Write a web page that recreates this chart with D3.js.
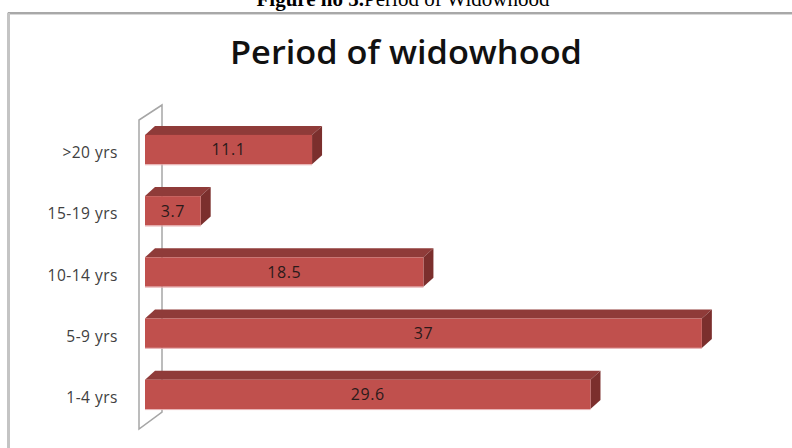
<!DOCTYPE html>
<html>
<head>
<meta charset="utf-8">
<script src="https://cdn.jsdelivr.net/npm/d3@7"></script>
<style>
  html, body { margin: 0; padding: 0; background: #fff; overflow: hidden; }
  svg { display: block; }
</style>
</head>
<body>
<svg id="chart" width="792" height="448"></svg>
<script>
// Period of widowhood (%), listed top to bottom as drawn
const categories = [">20 yrs", "15-19 yrs", "10-14 yrs", "5-9 yrs", "1-4 yrs"];
const values = [11.1, 3.7, 18.5, 37, 29.6];

const W = 792, H = 448;
const svg = d3.select("#chart");

// Caption above the framed chart (partly cut off at the top edge)
const cap = svg.append("text")
  .attr("x", 403).attr("y", 6)
  .attr("text-anchor", "middle")
  .attr("font-family", "Liberation Serif, Times New Roman, serif")
  .attr("font-size", 21)
  .attr("fill", "#000");
cap.append("tspan").attr("font-weight", "bold").text("Figure no 5.");
cap.append("tspan").text("Period of Widowhood");

// Chart frame
svg.append("rect")
  .attr("x", 8.5).attr("y", 13)
  .attr("width", W + 20).attr("height", H + 20)
  .attr("fill", "#fff")
  .attr("stroke", "#8c8c8c").attr("stroke-width", 1.5);
svg.append("line")
  .attr("x1", 8.5).attr("x2", 8.5).attr("y1", 13).attr("y2", H)
  .attr("stroke", "#c4c4c4").attr("stroke-width", 3);
svg.append("line")
  .attr("x1", 10).attr("x2", W).attr("y1", 14.5).attr("y2", 14.5)
  .attr("stroke", "#d8d8d8").attr("stroke-width", 1);

// Title
svg.append("text")
  .attr("x", 406).attr("y", 64)
  .attr("text-anchor", "middle")
  .attr("font-family", "Open Sans, sans-serif")
  .attr("font-weight", 600)
  .attr("font-size", 32)
  .attr("textLength", 352)
  .attr("lengthAdjust", "spacingAndGlyphs")
  .attr("fill", "#111")
  .text("Period of widowhood");

// Scales
const x = d3.scaleLinear().domain([0, 40]).range([145, 747]);
const y = d3.scaleBand().domain(categories).range([119, 425])
  .paddingInner(0.52).paddingOuter(0.26);

// 3D depth offset
const dx = 10, dy = 9;

// Side wall of the 3D plot area
const wall = { fx: 139, bx: 162, top: 120, bot: 429 };
svg.append("path")
  .attr("d", `M${wall.fx},${wall.bot} L${wall.fx},${wall.top} L${wall.bx},${wall.top - 15} L${wall.bx},${wall.bot - 17} Z`)
  .attr("fill", "none")
  .attr("stroke", "#a6a6a6").attr("stroke-width", 1.5);

// Bars
const bars = svg.append("g").selectAll("g").data(values).join("g");
bars.each(function (v, i) {
  const g = d3.select(this);
  const x0 = x(0), x1 = x(v);
  const y0 = y(categories[i]), h = y.bandwidth();
  // top face
  g.append("path")
    .attr("d", `M${x0},${y0} L${x0 + dx},${y0 - dy} L${x1 + dx},${y0 - dy} L${x1},${y0} Z`)
    .attr("fill", "#8f3b39");
  // right face
  g.append("path")
    .attr("d", `M${x1},${y0} L${x1 + dx},${y0 - dy} L${x1 + dx},${y0 + h - dy} L${x1},${y0 + h} Z`)
    .attr("fill", "#7b2f2d");
  // front face
  g.append("rect")
    .attr("x", x0).attr("y", y0)
    .attr("width", x1 - x0).attr("height", h)
    .attr("fill", "#c0504d");
  // soft light edge along the bottom
  g.append("line")
    .attr("x1", x0).attr("x2", x1)
    .attr("y1", y0 + h + 0.5).attr("y2", y0 + h + 0.5)
    .attr("stroke", "#e7aeb0").attr("stroke-width", 1);
});

// Value labels
svg.append("g").selectAll("text").data(values).join("text")
  .attr("x", v => (x(0) + x(v)) / 2)
  .attr("y", (v, i) => y(categories[i]) + y.bandwidth() / 2)
  .attr("dy", "0.36em")
  .attr("text-anchor", "middle")
  .attr("font-family", "Open Sans, sans-serif")
  .attr("font-size", 16)
  .attr("letter-spacing", 0.6)
  .attr("fill", "#2b1a1a")
  .text(v => v);

// Category labels
svg.append("g").selectAll("text").data(categories).join("text")
  .attr("x", 118)
  .attr("y", d => y(d) + y.bandwidth() / 2 + 3)
  .attr("dy", "0.36em")
  .attr("text-anchor", "end")
  .attr("font-family", "Open Sans, sans-serif")
  .attr("font-size", 15.5)
  .attr("letter-spacing", 0.5)
  .attr("fill", "#404040")
  .text(d => d);
</script>
</body>
</html>
